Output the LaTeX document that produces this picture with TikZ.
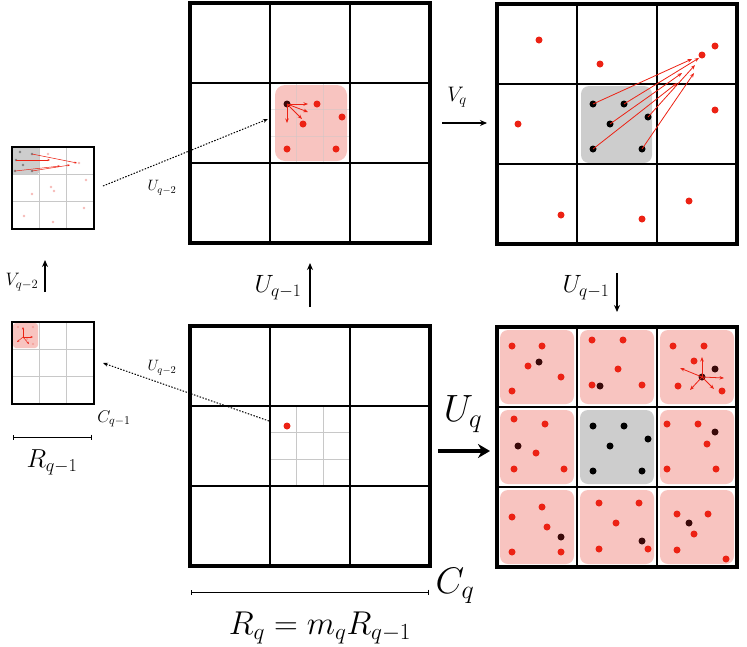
\RequirePackage{fix-cm}
\documentclass[tikz,border=0pt]{standalone}
\usepackage{amsmath}
\usetikzlibrary{arrows.meta}

\definecolor{dotred}{RGB}{236,34,20}
\definecolor{dotdark}{RGB}{58,10,10}
\definecolor{pinkbg}{RGB}{248,196,192}
\definecolor{grayfill}{RGB}{205,205,205}
\definecolor{paleline}{RGB}{200,200,200}
\definecolor{palered}{RGB}{246,186,182}

\begin{document}
\begin{tikzpicture}[x=1pt,y=-1pt,
    outer/.style={line width=3.8pt},
    inner/.style={line width=1.3pt},
    subline/.style={line width=0.9pt, draw=paleline},
    redarrow/.style={draw=dotred, line width=0.8pt, -{Stealth[length=4.5pt,width=3.5pt]}},
    tinyarrow/.style={draw=dotred, line width=0.5pt, -{Stealth[length=2.5pt,width=2pt]}},
    flow/.style={line width=1.3pt, -{Stealth[length=7pt,width=6pt]}},
    link/.style={line width=1pt, dash pattern=on 1.5pt off 1.5pt, -{Stealth[length=5pt,width=4pt]}},
    scalebar/.style={line width=0.8pt, {Bar[width=5pt]}-{Bar[width=5pt]}}]

    \useasboundingbox (0,0) rectangle (747,646);

    % backgrounds of the big grids
    \fill[pinkbg, rounded corners=10pt] (275,85) rectangle (347,161);
    \fill[grayfill, rounded corners=8pt] (581,86) rectangle (652,163);
    \foreach \i/\j in {0/0,1/0,2/0,0/1,2/1,0/2,1/2,2/2}
        \fill[pinkbg, rounded corners=8pt] (500+80*\i,330+80*\j) rectangle ++(74,74);
    \fill[grayfill, rounded corners=8pt] (580,410) rectangle ++(74,74);

    % sub cells of the middle cells
    \foreach \k in {296.7,323.3} {
        \draw[subline, draw opacity=0.45] (\k,83) -- (\k,163);
        \draw[subline] (\k,406) -- (\k,486);
    }
    \foreach \k in {109.7,136.3} \draw[subline, draw opacity=0.45] (270,\k) -- (350,\k);
    \foreach \k in {432.7,459.3} \draw[subline] (270,\k) -- (350,\k);

    % big grids
    \foreach \gx/\gy in {190/3, 497/4, 190/326, 497/327} {
        \foreach \k in {80,160} {
            \draw[inner] (\gx+\k,\gy) -- (\gx+\k,\gy+240);
            \draw[inner] (\gx,\gy+\k) -- (\gx+240,\gy+\k);
        }
        \draw[outer] (\gx,\gy) rectangle (\gx+240,\gy+240);
    }

    % small grids
    \fill[grayfill, rounded corners=1.5pt] (12,147) rectangle (39,174);
    \fill[pinkbg, rounded corners=3pt] (13,323) rectangle (38,348);
    \foreach \gy in {147,322} {
        \foreach \k in {27.3,54.7} {
            \draw[subline] (12+\k,\gy) -- (12+\k,\gy+82);
            \draw[subline] (12,\gy+\k) -- (94,\gy+\k);
        }
        \draw[line width=1.5pt] (12,\gy) rectangle (94,\gy+82);
    }

    % top left small grid
    \foreach \p in {(48,154),(79,163),(86,180),(51,187),(54,191),(32,194),(84,208),(24,216),(53,222)}
        \fill[palered] \p circle[radius=1.3pt];
    \foreach \p in {(20,152),(16,160),(23,165),(15,171),(32,171),(32,154)}
        \fill[gray] \p circle[radius=1.3pt];
    \draw[tinyarrow] (16,160) coordinate (sa1) -- (50,160) coordinate (se1);
    \draw[tinyarrow] (32,154) coordinate (sa2) -- (77,163) coordinate (se2);
    \draw[tinyarrow] (15,171) coordinate (sa3) -- (60,166) coordinate (se3);
    \draw[tinyarrow] (32,171) coordinate (sa4) -- (70,165) coordinate (se4);

    % bottom left small grid
    \foreach \p in {(18,327),(33,327),(27,339),(33,344)}
        \fill[palered!80!dotred] \p circle[radius=1.2pt];
    \coordinate (shub) at (23,337);
    \foreach \e in {(23,327),(33,337),(17,342),(29,344)}
        \draw[tinyarrow] (shub) -- \e;

    % top middle grid
    \foreach \p in {(317,104),(342,117),(303,124),(287,149),(336,149)}
        \fill[dotred] \p circle[radius=3.5pt];
    \fill[dotdark] (287,104) coordinate (hub) circle[radius=3.5pt];
    \draw[redarrow] (hub) -- (308,104) coordinate (h1);
    \draw[redarrow] (hub) -- (308,112) coordinate (h2);
    \draw[redarrow] (hub) -- (302,119) coordinate (h3);
    \draw[redarrow] (hub) -- (287,123) coordinate (h4);

    % top right grid
    \foreach \p in {(539,40),(600,64),(715,46),(702,55),(518,124),(715,110),(561,215),(642,219),(689,201)}
        \fill[dotred] \p circle[radius=3.5pt];
    \foreach \p in {(593,104),(624,104),(648,117),(610,124),(593,149),(642,149)}
        \fill[black] \p circle[radius=3.5pt];
    \draw[redarrow] (593,104) coordinate (b1) -- (692,59) coordinate (t1);
    \draw[redarrow] (624,104) coordinate (b2) -- (699,58) coordinate (t2);
    \draw[redarrow] (648,117) coordinate (b3) -- (695,65) coordinate (t3);
    \draw[redarrow] (610,124) coordinate (b4) -- (682,73) coordinate (t4);
    \draw[redarrow] (593,149) coordinate (b5) -- (677,83) coordinate (t5);
    \draw[redarrow] (642,149) coordinate (b6) -- (694,73) coordinate (t6);

    % bottom middle grid
    \fill[dotred] (287,426) circle[radius=3.5pt];

    % bottom right grid
    \foreach \p in {(512,346),(542,346),(528,366),(561,377),(512,391),
                    (592,340),(623,340),(618,369),(592,385),(642,385),
                    (673,346),(704,346),(694,361),(678,386),(722,391),
                    (514,419),(545,424),(536,453),(514,469),(564,469),
                    (667,424),(698,424),(707,444),(667,469),(716,469),
                    (512,517),(542,507),(547,527),(512,552),(561,552),
                    (599,503),(639,503),(616,523),(648,549),(599,549),
                    (677,514),(708,514),(694,534),(677,550),(726,559)}
        \fill[dotred] \p circle[radius=3.5pt];
    \foreach \p in {(539,362),(600,386),(715,369),(518,446),(715,432),(561,537),(642,541),(689,523)}
        \fill[dotdark] \p circle[radius=3.5pt];
    \foreach \p in {(593,426),(624,426),(648,439),(610,446),(593,471),(642,471)}
        \fill[black] \p circle[radius=3.5pt];
    \fill[dotdark] (702,377) coordinate (hub2) circle[radius=3.5pt];
    \draw[redarrow] (hub2) -- (702,357) coordinate (k1);
    \draw[redarrow] (hub2) -- (724,378) coordinate (k2);
    \draw[redarrow] (hub2) -- (680,368) coordinate (k3);
    \draw[redarrow] (hub2) -- (690,390) coordinate (k4);
    \draw[redarrow] (hub2) -- (714,389) coordinate (k5);

    % dotted links between levels
    \draw[link] (103,186) coordinate (la) -- (268,119) coordinate (lb);
    \draw[link] (269,421) coordinate (lc) -- (103,363) coordinate (ld);
    \node[font=\fontsize{15}{17}\selectfont] (u2top) at (162,188) {$U_{q-2}$};
    \node[font=\fontsize{15}{17}\selectfont] (u2bot) at (162,368) {$U_{q-2}$};

    % level arrows
    \draw[flow] (45,292) coordinate (va) -- (45,260) coordinate (vb);
    \node[font=\fontsize{18}{21}\selectfont] (v2) at (22,282) {$V_{q-2}$};
    \draw[flow] (310,307) coordinate (ua) -- (310,263) coordinate (ub);
    \node[font=\fontsize{25}{28}\selectfont] (u1l) at (278,288) {$U_{q-1}$};
    \draw[flow] (617,273) coordinate (uc) -- (617,312) coordinate (ud);
    \node[font=\fontsize{25}{28}\selectfont] (u1r) at (586,288) {$U_{q-1}$};
    \draw[flow] (442,123) coordinate (wa) -- (487,123) coordinate (wb);
    \node[font=\fontsize{21}{24}\selectfont] (vq) at (457,97) {$V_q$};
    \draw[line width=4pt, -{Stealth[length=12pt,width=14pt]}] (438,451) coordinate (xa) -- (490,451) coordinate (xb);
    \node[font=\fontsize{38}{42}\selectfont] (uq) at (463,414) {$U_q$};

    % scales
    \node[font=\fontsize{17}{20}\selectfont] (c1) at (114,419) {$C_{q-1}$};
    \draw[scalebar] (13,437) coordinate (sl) -- (92,437) coordinate (sr);
    \node[font=\fontsize{26}{30}\selectfont] (r1) at (52,462) {$R_{q-1}$};
    \node[font=\fontsize{37}{40}\selectfont] (cq) at (455,586) {$C_q$};
    \draw[scalebar] (191,592) coordinate (bl) -- (429,592) coordinate (br);
    \node[font=\fontsize{33}{37}\selectfont] (rq) at (320,628) {$R_q = m_q R_{q-1}$};

\end{tikzpicture}
\end{document}
